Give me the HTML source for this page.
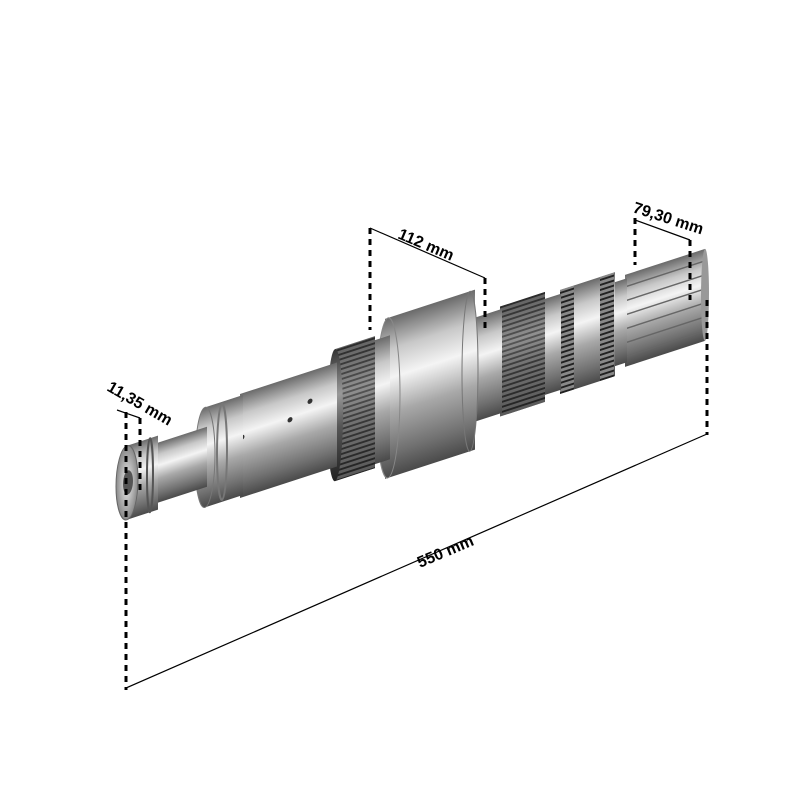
<!DOCTYPE html>
<html><head><style>body{margin:0;background:#fff}svg{display:block}</style></head><body>
<svg width="800" height="800" viewBox="0 0 800 800" xmlns="http://www.w3.org/2000/svg">
<defs>
<linearGradient id="m" x1="0" y1="0" x2="0" y2="1">
<stop offset="0" stop-color="#6a6a6a"/><stop offset="0.2" stop-color="#c8c8c8"/><stop offset="0.38" stop-color="#f4f4f4"/><stop offset="0.6" stop-color="#a8a8a8"/><stop offset="0.85" stop-color="#707070"/><stop offset="1" stop-color="#4a4a4a"/></linearGradient>
<linearGradient id="d" x1="0" y1="0" x2="0" y2="1">
<stop offset="0" stop-color="#333"/><stop offset="0.35" stop-color="#999"/><stop offset="0.6" stop-color="#555"/><stop offset="1" stop-color="#222"/></linearGradient>
<radialGradient id="f"><stop offset="0" stop-color="#eee"/><stop offset="1" stop-color="#888"/></radialGradient>
<pattern id="rl" width="6" height="5" patternUnits="userSpaceOnUse"><rect width="6" height="5" fill="#888"/><rect width="6" height="2" fill="#222"/></pattern>
</defs>
<g transform="translate(0,524) skewY(-18)">
<!-- gear -->
<rect x="625" y="-46" width="80" height="92" fill="url(#m)"/>
<g stroke="#666" stroke-width="1.5"><line x1="625" y1="-34" x2="705" y2="-34"/><line x1="625" y1="-20" x2="705" y2="-20"/><line x1="625" y1="-6" x2="705" y2="-6"/><line x1="625" y1="8" x2="705" y2="8"/><line x1="625" y1="22" x2="705" y2="22"/><line x1="625" y1="36" x2="705" y2="36"/></g>
<ellipse cx="705" cy="0" rx="4" ry="46" fill="#999"/>
<rect x="595" y="-42" width="32" height="84" fill="url(#m)"/>
<rect x="560" y="-52" width="55" height="104" fill="url(#m)"/>
<rect x="560" y="-52" width="14" height="104" fill="url(#rl)"/>
<rect x="600" y="-52" width="14" height="104" fill="url(#rl)"/>
<rect x="545" y="-48" width="16" height="96" fill="url(#m)"/>
<rect x="500" y="-55" width="45" height="110" fill="url(#rl)"/>
<rect x="500" y="-55" width="45" height="110" fill="url(#d)" opacity="0.45"/>
<rect x="470" y="-52" width="32" height="104" fill="url(#m)"/>
<!-- big flange -->
<rect x="385" y="-80" width="90" height="160" fill="url(#m)"/>
<ellipse cx="470" cy="0" rx="8" ry="80" fill="url(#m)" stroke="#777"/>
<ellipse cx="388" cy="0" rx="12" ry="80" fill="url(#m)" stroke="#888"/>
<rect x="370" y="-62" width="20" height="124" fill="url(#m)"/>
<rect x="335" y="-66" width="40" height="132" fill="url(#rl)"/>
<rect x="335" y="-66" width="40" height="132" fill="url(#d)" opacity="0.45"/>
<ellipse cx="335" cy="0" rx="8" ry="66" fill="url(#d)"/>
<rect x="240" y="-52" width="97" height="104" fill="url(#m)"/>
<circle cx="290" cy="-10" r="2.5" fill="#333"/><circle cx="310" cy="-22" r="2.5" fill="#333"/><circle cx="242" cy="-8" r="2.5" fill="#333"/>
<rect x="205" y="-50" width="38" height="100" fill="url(#m)"/>
<ellipse cx="222" cy="0" rx="5" ry="48" fill="none" stroke="#777" stroke-width="2"/>
<ellipse cx="205" cy="0" rx="10" ry="50" fill="url(#m)" stroke="#777"/>
<rect x="155" y="-30" width="52" height="60" fill="url(#m)"/>
<rect x="125" y="-37" width="33" height="74" fill="url(#m)"/>
<ellipse cx="150" cy="0" rx="3" ry="37" fill="none" stroke="#555" stroke-width="2"/>
<ellipse cx="127" cy="0" rx="11" ry="37" fill="url(#f)" stroke="#666"/>
<ellipse cx="128" cy="0" rx="5" ry="12" fill="#555"/>
</g>
<!-- dimensions -->
<g stroke="#000" stroke-width="3" stroke-dasharray="6,5" fill="none">
<line x1="126" y1="412" x2="126" y2="690"/><line x1="140" y1="418" x2="140" y2="490"/>
<line x1="707" y1="300" x2="707" y2="435"/>
<line x1="370" y1="228" x2="370" y2="330"/><line x1="485" y1="278" x2="485" y2="330"/>
<line x1="635" y1="218" x2="635" y2="265"/><line x1="690" y1="240" x2="690" y2="300"/>
</g>
<g stroke="#000" stroke-width="1.2">
<line x1="126" y1="688" x2="707" y2="434"/>
<line x1="370" y1="228" x2="485" y2="278"/>
<line x1="635" y1="220" x2="690" y2="240"/>
<line x1="117" y1="410" x2="140" y2="418"/>
</g>
<g font-family="Liberation Sans, sans-serif" font-weight="bold" font-size="16" fill="#000">
<text x="0" y="0" transform="translate(420,568) rotate(-23)">550 mm</text>
<text x="0" y="0" transform="translate(397,238) rotate(23)">112 mm</text>
<text x="0" y="0" transform="translate(632,212) rotate(18)">79,30 mm</text>
<text x="0" y="0" transform="translate(106,390) rotate(30)">11,35 mm</text>
</g>
</svg>
</body></html>
